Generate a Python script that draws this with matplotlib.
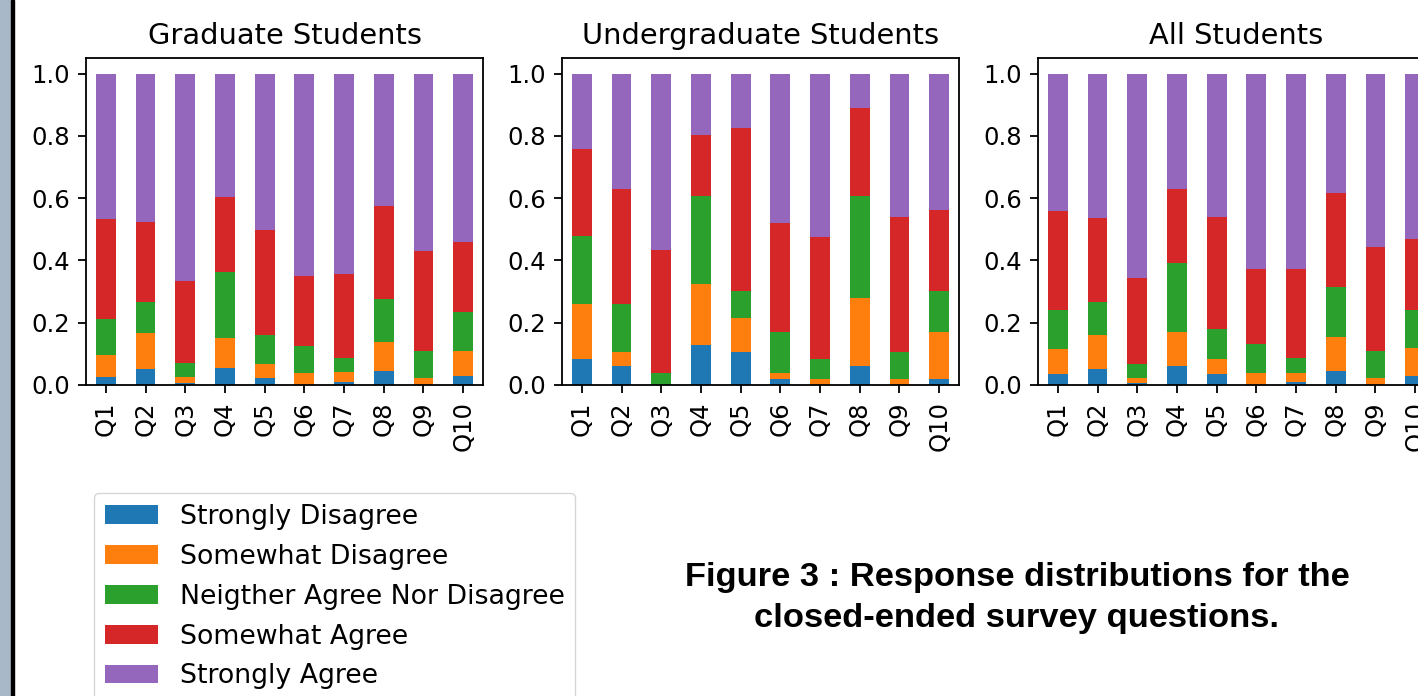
# distribuicao das respostas por grupo de alunos (barras empilhadas)

import numpy as np
import matplotlib
matplotlib.use('Agg')
import matplotlib.pyplot as plt
from matplotlib.patches import Rectangle

questions = ['Q1', 'Q2', 'Q3', 'Q4', 'Q5', 'Q6', 'Q7', 'Q8', 'Q9', 'Q10']
responses = ['Strongly Disagree', 'Somewhat Disagree', 'Neigther Agree Nor Disagree',
             'Somewhat Agree', 'Strongly Agree']
groups = ['Graduate Students', 'Undergraduate Students', 'All Students']

# proporcao de cada resposta por questao (uma lista por resposta)
grad_sd = [0.027, 0.050, 0.005, 0.053, 0.024, 0.000, 0.011, 0.045, 0.000, 0.030]
grad_swd = [0.069, 0.118, 0.022, 0.097, 0.042, 0.040, 0.031, 0.092, 0.024, 0.080]
grad_n = [0.115, 0.099, 0.045, 0.213, 0.095, 0.085, 0.046, 0.139, 0.086, 0.123]
grad_swa = [0.321, 0.256, 0.262, 0.240, 0.337, 0.224, 0.270, 0.300, 0.321, 0.225]
grad_sa = [0.468, 0.477, 0.666, 0.397, 0.502, 0.651, 0.642, 0.424, 0.569, 0.542]

under_sd = [0.083, 0.061, 0.000, 0.127, 0.105, 0.018, 0.000, 0.061, 0.000, 0.018]
under_swd = [0.176, 0.045, 0.000, 0.197, 0.111, 0.022, 0.018, 0.219, 0.018, 0.153]
under_n = [0.218, 0.153, 0.040, 0.283, 0.087, 0.131, 0.066, 0.327, 0.088, 0.132]
under_swa = [0.282, 0.371, 0.392, 0.195, 0.522, 0.349, 0.392, 0.284, 0.435, 0.258]
under_sa = [0.241, 0.370, 0.568, 0.198, 0.175, 0.480, 0.524, 0.109, 0.459, 0.439]

all_sd = [0.034, 0.052, 0.005, 0.061, 0.034, 0.000, 0.011, 0.046, 0.000, 0.028]
all_swd = [0.082, 0.108, 0.017, 0.110, 0.050, 0.040, 0.029, 0.109, 0.024, 0.090]
all_n = [0.126, 0.105, 0.046, 0.222, 0.096, 0.092, 0.047, 0.161, 0.086, 0.124]
all_swa = [0.316, 0.271, 0.276, 0.235, 0.359, 0.239, 0.285, 0.299, 0.333, 0.226]
all_sa = [0.442, 0.464, 0.656, 0.372, 0.461, 0.629, 0.628, 0.385, 0.557, 0.532]

data = [
    [grad_sd, grad_swd, grad_n, grad_swa, grad_sa],
    [under_sd, under_swd, under_n, under_swa, under_sa],
    [all_sd, all_swd, all_n, all_swa, all_sa],
]
colors = ['#1f77b4', '#ff7f0e', '#2ca02c', '#d62728', '#9467bd']

plt.rcParams['axes.linewidth'] = 1.3
plt.rcParams['xtick.major.width'] = 1.3
plt.rcParams['ytick.major.width'] = 1.3
plt.rcParams['xtick.major.size'] = 5.8
plt.rcParams['ytick.major.size'] = 5.8
plt.rcParams['xtick.major.pad'] = 5.8
plt.rcParams['ytick.major.pad'] = 5.8

W, H = 1418, 696
fig = plt.figure(figsize=(W / 100, H / 100), dpi=100)

# faixa lateral da captura
fig.patches.append(Rectangle((0, 0), 11 / W, 1, transform=fig.transFigure,
                             color='#a9b8c8', zorder=0))
fig.patches.append(Rectangle((11 / W, 0), 2.5 / W, 1, transform=fig.transFigure,
                             color='black', zorder=0))

lefts = [86, 562, 1038]
x = np.arange(len(questions))
for i, g in enumerate(groups):
    ax = fig.add_axes([lefts[i] / W, (H - 385) / H, 397 / W, 327 / H])
    bottom = np.zeros(len(questions))
    for j, r in enumerate(responses):
        vals = np.array(data[i][j])
        ax.bar(x, vals, 0.5, bottom=bottom, color=colors[j], label=r)
        bottom = bottom + vals
    ax.set_xlim(-0.5, 9.5)
    ax.set_xticks(x)
    ax.set_xticklabels(questions, rotation=90)
    ax.set_yticks([0, 0.2, 0.4, 0.6, 0.8, 1.0])
    ax.set_yticklabels(['0.0', '0.2', '0.4', '0.6', '0.8', '1.0'])
    ax.tick_params(labelsize=17.5)
    ax.set_title(g, fontsize=20.8, pad=10)
    if i == 0:
        handles, labels = ax.get_legend_handles_labels()

fig.legend(handles, labels, loc='upper left', bbox_to_anchor=(94 / W, 1 - 493 / H),
           borderaxespad=0, fontsize=19.3, labelspacing=0.52)

fig.text(1017 / W, 1 - 598 / H,
         'Figure 3 : Response distributions for the\nclosed-ended survey questions.',
         ha='center', va='center', fontsize=24.8, fontweight='bold',
         family='Liberation Sans', linespacing=1.4)

plt.savefig('out.png', dpi=100)
